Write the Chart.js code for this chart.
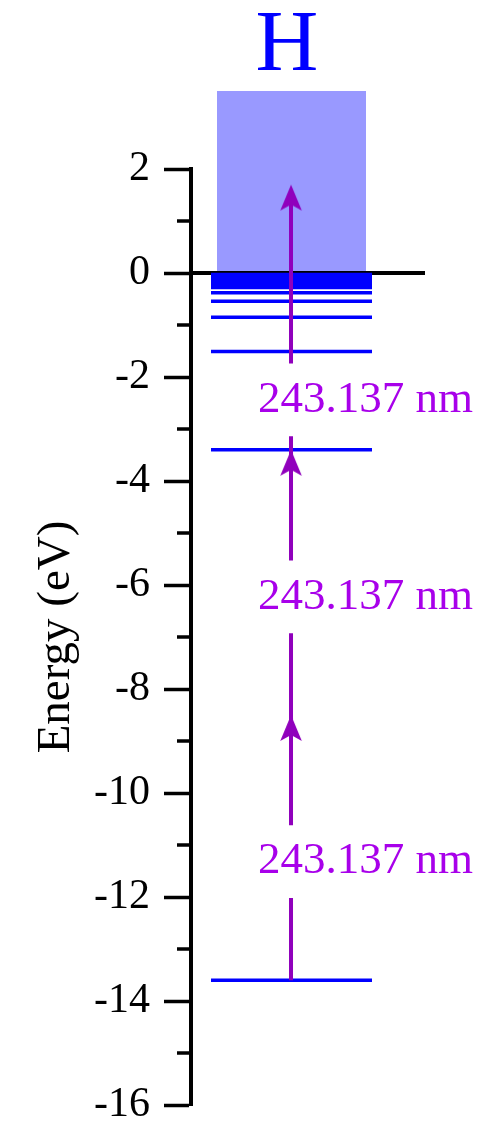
<!DOCTYPE html>
<html>
<head>
<meta charset="utf-8">
<title>H energy levels</title>
<script src="https://cdn.jsdelivr.net/npm/chart.js@4/dist/chart.umd.min.js"></script>
<style>
  html, body { margin: 0; padding: 0; background: #ffffff; }
  canvas { display: block; }
</style>
</head>
<body>
<canvas id="chart" width="501" height="1121"></canvas>
<script>
// Bound-state energies of hydrogen (eV), ground state first
const levelEnergies = [
  -13.6, -3.4, -1.511, -0.850, -0.544, -0.378, -0.278, -0.213, -0.168, -0.136,
  -0.112, -0.094, -0.080, -0.069, -0.060, -0.053, -0.047, -0.042, -0.038, -0.034,
  -0.031, -0.028
];
// Ionisation continuum drawn from 0 up to this energy (eV)
const continuumTop = 3.5;
// Three-photon ladder: start level and the energy reached after each photon (eV)
const ladderStart = -13.6;
const ladderTips = [-8.5, -3.4, 1.7];
// Wavelength label of each photon and where it sits on the energy axis (eV)
const photonLabels = ['243.137 nm', '243.137 nm', '243.137 nm'];
const photonLabelEnergies = [-11.32, -6.23, -2.44];
// Axis ticks (eV)
const yMajorTicks = [-16, -14, -12, -10, -8, -6, -4, -2, 0, 2];
const yMinorTicks = [-15, -13, -11, -9, -7, -5, -3, -1, 1];
const atomName = 'H';

// Horizontal layout in arbitrary units across the plot (0..10)
const X_LEVEL = [0.855, 7.735];
const X_ARROW = 4.274;
const X_BOX = 4.295;
const X_LABEL = 2.863;
const X_TITLE = 4.103;

const SERIF = '"Liberation Serif", "Times New Roman", serif';
const BLUE = '#0000ff';
const ARROW = '#9000bc';
const LABEL = '#a800ea';
const LABEL_GAP = 0.70;   // half-height (eV) of the break in the arrow around a label
const HEAD_BACK = 0.30;   // shaft stops this far (eV) below the final tip

// Level lines: one polyline broken by null points
const levelData = [];
levelEnergies.forEach(e => {
  levelData.push({x: X_LEVEL[0], y: e}, {x: X_LEVEL[1], y: e}, {x: X_LEVEL[1], y: null});
});

// Arrow shaft: continuous from the start level to the last tip, broken around the labels
const shaftData = [];
{
  const top = ladderTips[ladderTips.length - 1] - HEAD_BACK;
  let from = ladderStart;
  photonLabelEnergies.forEach(e => {
    shaftData.push({x: X_ARROW, y: from}, {x: X_ARROW, y: e - LABEL_GAP}, {x: X_ARROW, y: null});
    from = e + LABEL_GAP;
  });
  shaftData.push({x: X_ARROW, y: from}, {x: X_ARROW, y: top});
}

// Arrowhead sprite with its tip at the sprite centre
function makeArrowHead() {
  const c = document.createElement('canvas');
  c.width = 60; c.height = 60;
  const g = c.getContext('2d');
  const cx = 30, cy = 30, half = 10.8, len = 26, notch = 20;
  g.fillStyle = ARROW;
  g.beginPath();
  g.moveTo(cx, cy);
  g.lineTo(cx + half, cy + len);
  g.lineTo(cx, cy + notch);
  g.lineTo(cx - half, cy + len);
  g.closePath();
  g.fill();
  return c;
}
const arrowHead = makeArrowHead();

// Extra drawing: minor ticks, photon labels and the element symbol
const decorations = {
  id: 'decorations',
  afterDatasetsDraw(chart) {
    const {ctx, scales: {x, y}} = chart;
    ctx.save();
    ctx.fillStyle = LABEL;
    ctx.font = '45px ' + SERIF;
    ctx.textAlign = 'left';
    ctx.textBaseline = 'middle';
    photonLabels.forEach((t, i) => {
      ctx.fillText(t, x.getPixelForValue(X_LABEL), y.getPixelForValue(photonLabelEnergies[i]));
    });
    ctx.restore();
  },
  afterDraw(chart) {
    const {ctx, chartArea, scales: {x, y}} = chart;
    ctx.save();
    ctx.strokeStyle = '#000';
    ctx.lineWidth = 3.5;
    yMinorTicks.forEach(v => {
      const py = y.getPixelForValue(v);
      ctx.beginPath();
      ctx.moveTo(chartArea.left - 14, py);
      ctx.lineTo(chartArea.left, py);
      ctx.stroke();
    });
    ctx.fillStyle = BLUE;
    ctx.font = '87px ' + SERIF;
    ctx.textAlign = 'center';
    ctx.textBaseline = 'alphabetic';
    ctx.fillText(atomName, x.getPixelForValue(X_TITLE), 70);
    ctx.restore();
  }
};

new Chart(document.getElementById('chart'), {
  type: 'scatter',
  data: {
    datasets: [
      {
        type: 'scatter',
        data: ladderTips.map(e => ({x: X_ARROW, y: e})),
        pointStyle: arrowHead,
        pointRadius: 10,
        order: 1,
        clip: false
      },
      {
        type: 'line',
        data: shaftData,
        borderColor: ARROW,
        borderWidth: 4,
        pointRadius: 0,
        spanGaps: false,
        fill: false,
        order: 2
      },
      {
        type: 'line',
        data: levelData,
        borderColor: BLUE,
        borderWidth: 3.5,
        pointRadius: 0,
        spanGaps: false,
        fill: false,
        order: 3
      },
      {
        type: 'line',
        data: [{x: 0, y: 0}, {x: 10, y: 0}],
        borderColor: '#000',
        borderWidth: 4,
        pointRadius: 0,
        fill: false,
        order: 4
      },
      {
        type: 'bar',
        data: [{x: X_BOX, y: [0, continuumTop]}],
        backgroundColor: '#9999ff',
        borderWidth: 0,
        barThickness: 149,
        inflateAmount: 0,
        clip: false,
        order: 5
      }
    ]
  },
  options: {
    responsive: false,
    animation: false,
    devicePixelRatio: 1,
    events: [],
    layout: { padding: { top: 169, bottom: 16, left: 0, right: 76 } },
    plugins: {
      legend: { display: false },
      tooltip: { enabled: false },
      title: { display: false }
    },
    scales: {
      x: {
        type: 'linear',
        min: 0,
        max: 10,
        offset: false,
        display: false
      },
      y: {
        type: 'linear',
        position: 'left',
        min: -16,
        max: 2,
        afterBuildTicks: s => { s.ticks = yMajorTicks.map(v => ({value: v})); },
        afterFit: s => { s.width = 191; s.paddingTop = 0; s.paddingBottom = 0; },
        ticks: {
          padding: 14,
          color: '#000',
          font: { family: SERIF, size: 42 },
          callback: v => String(v)
        },
        grid: {
          drawOnChartArea: false,
          drawTicks: true,
          tickLength: 27,
          tickWidth: 3.5,
          tickColor: '#000'
        },
        border: { display: true, color: '#000', width: 4 },
        title: {
          display: true,
          text: 'Energy (eV)',
          color: '#000',
          font: { family: SERIF, size: 47 },
          padding: { top: 28, bottom: 0 }
        }
      }
    }
  },
  plugins: [decorations]
});
</script>
</body>
</html>
